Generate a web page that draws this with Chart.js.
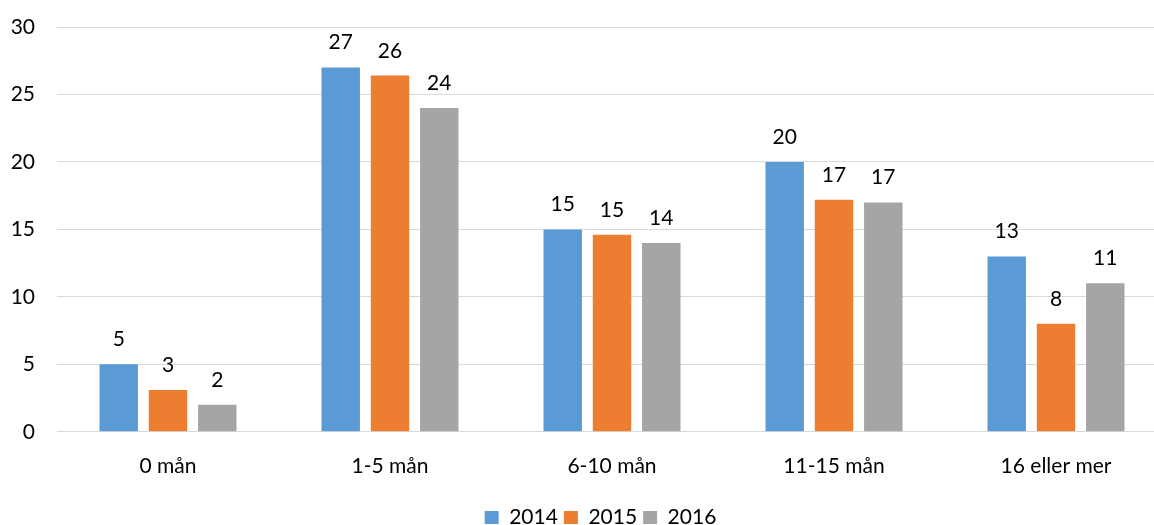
<!DOCTYPE html>
<html>
<head>
<meta charset="utf-8">
<script src="https://cdn.jsdelivr.net/npm/chart.js@4/dist/chart.umd.min.js"></script>
<style>
  html, body { margin: 0; padding: 0; background: #fff; overflow: hidden; }
  #wrap { position: relative; width: 1200px; height: 525px; }
</style>
</head>
<body>
<div id="wrap"><canvas id="c"></canvas></div>
<script>
const categories = ['0 mån', '1-5 mån', '6-10 mån', '11-15 mån', '16 eller mer'];
const seriesNames = ['2014', '2015', '2016'];
const values2014 = [5, 27, 15, 20, 13];
const values2015 = [3.1, 26.4, 14.6, 17.2, 8];
const values2016 = [2, 24, 14, 17, 11];
const yTicks = [0, 5, 10, 15, 20, 25, 30];
const colors = ['#5B9BD5', '#ED7D31', '#A5A5A5'];

const FONT = 'Lato, "Open Sans", sans-serif';
const FONT_SIZE = 21;

// Value labels above each bar, rounded to whole numbers
const valueLabels = {
  id: 'valueLabels',
  afterDatasetsDraw(chart) {
    const ctx = chart.ctx;
    ctx.save();
    ctx.font = FONT_SIZE + 'px ' + FONT;
    ctx.fillStyle = '#000';
    ctx.textAlign = 'center';
    ctx.textBaseline = 'alphabetic';
    chart.data.datasets.forEach((ds, i) => {
      const meta = chart.getDatasetMeta(i);
      meta.data.forEach((bar, j) => {
        ctx.fillText(String(Math.round(ds.data[j])), bar.x, bar.y - 18);
      });
    });
    ctx.restore();
  }
};

// Centre the legend on the whole figure rather than on the padded box
const legendShift = {
  id: 'legendShift',
  afterLayout(chart) {
    const lg = chart.legend;
    if (lg) { lg.left += 17; lg.right += 17; }
  }
};

new Chart(document.getElementById('c'), {
  type: 'bar',
  data: {
    labels: categories,
    datasets: [values2014, values2015, values2016].map((d, i) => ({
      label: seriesNames[i],
      data: d,
      backgroundColor: colors[i],
      borderWidth: 0,
      categoryPercentage: 0.666,
      barPercentage: 0.78
    }))
  },
  options: {
    responsive: true,
    maintainAspectRatio: false,
    animation: false,
    layout: { padding: { left: 0, right: 33, top: 27, bottom: -13 } },
    scales: {
      x: {
        grid: { display: false, drawTicks: false },
        border: { display: true, color: '#D9D9D9', width: 1 },
        ticks: { color: '#000', font: { family: FONT, size: FONT_SIZE }, padding: 22 }
      },
      y: {
        min: 0,
        max: 30,
        afterBuildTicks(scale) { scale.ticks = yTicks.map(v => ({ value: v })); },
        afterFit(scale) { scale.width = 57; },
        grid: { color: '#D9D9D9', lineWidth: 1, drawTicks: true, tickLength: 22, tickColor: 'rgba(0,0,0,0)' },
        border: { display: false },
        ticks: { color: '#000', font: { family: FONT, size: FONT_SIZE }, padding: 0 }
      }
    },
    plugins: {
      legend: {
        position: 'bottom',
        labels: {
          color: '#000',
          font: { family: FONT, size: FONT_SIZE },
          boxWidth: 14,
          boxHeight: 13,
          padding: 6
        }
      },
      tooltip: { enabled: false }
    }
  },
  plugins: [valueLabels, legendShift]
});
</script>
</body>
</html>
